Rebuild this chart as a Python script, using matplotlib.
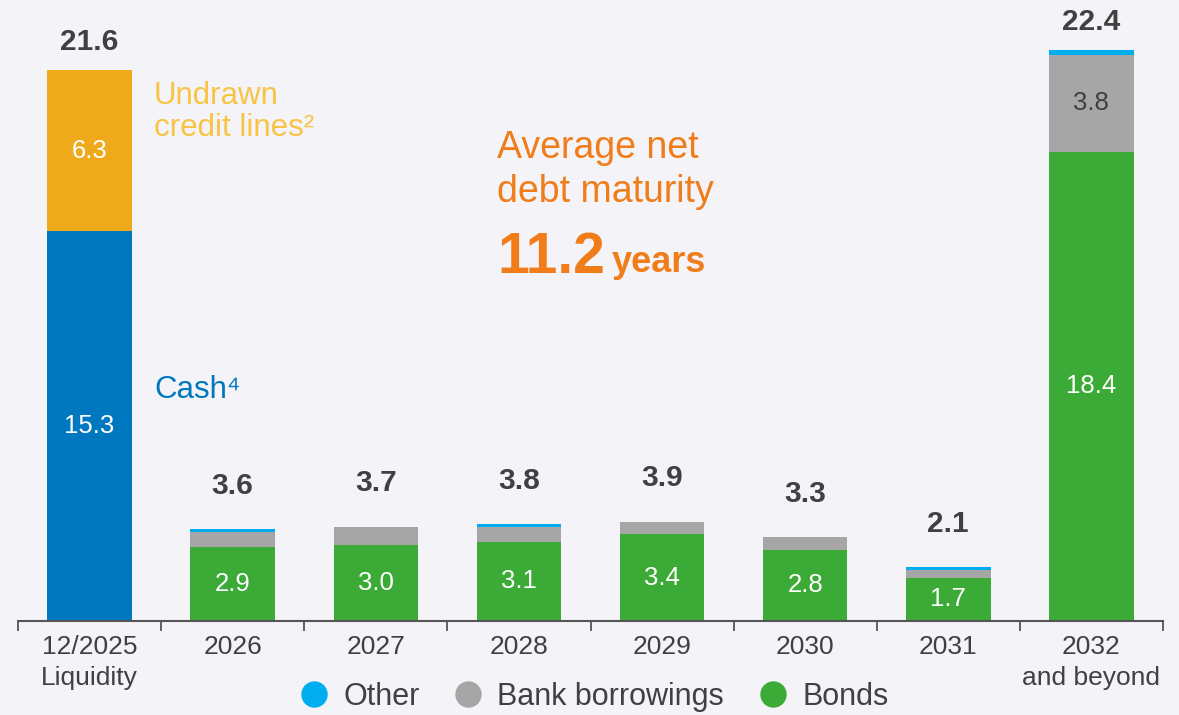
import matplotlib as mpl
mpl.use("Agg")
import matplotlib.pyplot as plt
from matplotlib.lines import Line2D
import numpy as np

plt.rcParams['font.family'] = ['Liberation Sans', 'DejaVu Sans']

categories = ["12/2025\nLiquidity", "2026", "2027", "2028", "2029", "2030", "2031", "2032\nand beyond"]
cash = [15.3]
undrawn = [6.3]
bonds = [2.9, 3.0, 3.1, 3.4, 2.8, 1.7, 18.4]
bank = [0.6, 0.7, 0.6, 0.5, 0.5, 0.3, 3.8]
other = [0.1, 0.0, 0.1, 0.0, 0.0, 0.1, 0.2]
totals = [21.6, 3.6, 3.7, 3.8, 3.9, 3.3, 2.1, 22.4]

bg = "#f3f3f8"
c_green = "#3caa36"
c_grey = "#a6a6a6"
c_other = "#00aeef"
c_cash = "#0078bf"
c_undrawn = "#eeaa1b"
c_orange = "#f07d1a"
c_text = "#404040"

fig = plt.figure(figsize=(11.79, 7.15), dpi=100, facecolor=bg)
ax = fig.add_axes([18/1179, 1-621/715, (1163-18)/1179, 612/715])
ax.set_facecolor(bg)

w = 0.59
x = np.arange(len(categories))
# liquidity bar
ax.bar(x[0], cash, w, color=c_cash)
ax.bar(x[0], undrawn, w, bottom=cash, color=c_undrawn)
# debt maturities
xm = x[1:]
b = np.array(bonds)
k = np.array(bank)
o = np.array(other)
ax.bar(xm, b, w, color=c_green)
ax.bar(xm, k, w, bottom=b, color=c_grey)
ax.bar(xm, o, w, bottom=b + k, color=c_other)

# segment labels
fs_in = 18.5
ax.text(x[0], cash[0]/2, "15.3", ha="center", va="center", color="white", fontsize=fs_in)
ax.text(x[0], cash[0] + undrawn[0]/2, "6.3", ha="center", va="center", color="white", fontsize=fs_in)
for i, v in enumerate(bonds):
    ax.text(xm[i], v/2, f"{v:.1f}", ha="center", va="center", color="white", fontsize=fs_in)
ax.text(xm[-1], bonds[-1] + bank[-1]/2, f"{bank[-1]:.1f}", ha="center", va="center",
        color=c_text, fontsize=fs_in)

# totals
for i, t in enumerate(totals):
    off = 1.7 if t < 10 else 1.1
    ax.text(x[i], t + off, f"{t:.1f}", ha="center", va="center", color=c_text,
            fontsize=21.5, fontweight="bold")

# annotations
ax.text(0.45, 20.6, "Undrawn", color="#f9c443", fontsize=22.5, ha="left", va="center")
ax.text(0.45, 19.35, "credit lines\u00b2", color="#f9c443", fontsize=22.5, ha="left", va="center")
ax.text(0.45, 9.06, "Cash\u2074", color=c_cash, fontsize=22.5, ha="left", va="center")
ax.text(2.85, 18.55, "Average net", color=c_orange, fontsize=27, ha="left", va="center")
ax.text(2.85, 16.82, "debt maturity", color=c_orange, fontsize=27, ha="left", va="center")
ax.text(2.85, 14.24, "11.2", color=c_orange, fontsize=41, fontweight="bold",
        ha="left", va="center")
ax.text(3.65, 14.05, "years", color=c_orange, fontsize=26, fontweight="bold",
        ha="left", va="center")

ax.set_xlim(-0.5, 7.5)
ax.set_ylim(0, 24)
for s in ["top", "right", "left"]:
    ax.spines[s].set_visible(False)
ax.spines["bottom"].set_color("#555555")
ax.spines["bottom"].set_linewidth(1.5)
ax.set_yticks([])
ax.set_xticks(np.arange(-0.5, 8, 1), minor=False)
ax.set_xticklabels([])
ax.tick_params(axis="x", which="major", length=7, width=1.3, color="#555555", direction="out")
ax.set_xticks(x, minor=True)
ax.set_xticklabels(categories, minor=True, fontsize=19, color=c_text, linespacing=1.35)
ax.tick_params(axis="x", which="minor", length=0, pad=10)

handles = [Line2D([], [], marker="o", linestyle="none", markersize=18, color=c)
           for c in [c_other, c_grey, c_green]]
fig.legend(handles, ["Other", "Bank borrowings", "Bonds"], loc="center",
           bbox_to_anchor=(0.497, 1-697/715), ncol=3, frameon=False, fontsize=22,
           handletextpad=-0.05, columnspacing=0.6, labelcolor=c_text)

fig.savefig("out.png", dpi=100, facecolor=bg)
